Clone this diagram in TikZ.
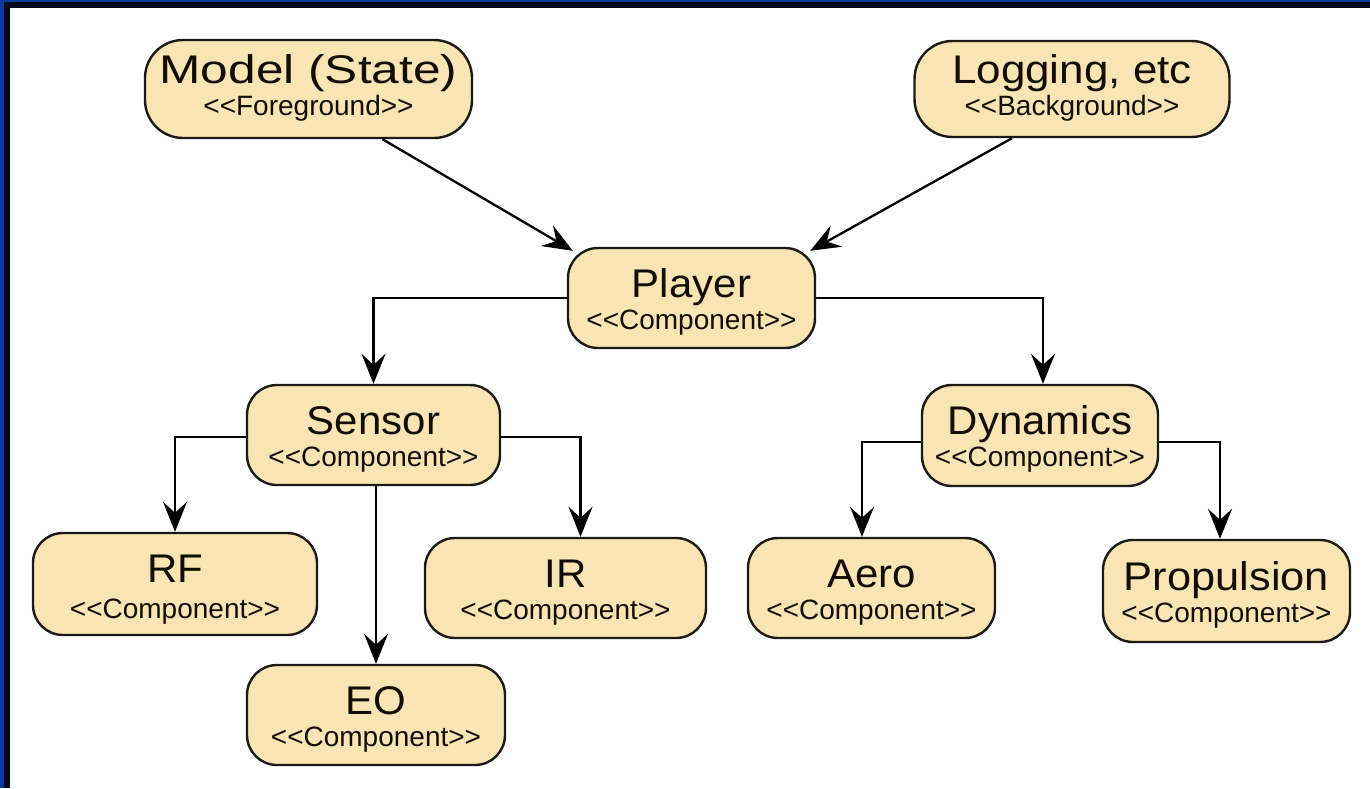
\documentclass[tikz,border=0pt]{standalone}
\usepackage{fontspec}
\setmainfont{Liberation Sans}
\usetikzlibrary{arrows.meta,calc}

\definecolor{boxfill}{HTML}{F9E5B4}
\definecolor{boxline}{HTML}{1C1A16}
\definecolor{frameblue}{HTML}{0B3A9E}
\definecolor{frameblack}{HTML}{050A1A}

% two-line label: [#1] = horizontal stretch of the name,
% #2 = height above first baseline, #3 = baseline gap,
% #4 = component name, #5 = stereotype
\newcommand\twoline[5][1.05]{%
  \vbox{\offinterlineskip\halign{\hfil##\hfil\cr
    \rule{0pt}{#2}\smash{\scalebox{#1}[1]{\fontsize{40}{40}\selectfont #4}}\cr
    \rule{0pt}{#3}\smash{\fontsize{28}{28}\selectfont #5}\cr}}}
\newcommand\stereo[1]{<\kern0pt<#1>\kern0pt>}

\tikzset{
  comp/.style={draw=boxline, fill=boxfill, line width=2.4pt,
    rounded corners=30pt, inner sep=0pt, text=black!90!brown},
  conn/.style={draw=black, line width=2.3pt,
    -{Stealth[length=30pt,width=24pt,inset=11pt]}},
}

\begin{document}
\begin{tikzpicture}[x=1pt,y=-1pt]
  \useasboundingbox (0,0) rectangle (1370,788);
  \fill[white] (0,0) rectangle (1370,788);
  % frame along top and left edges
  \fill[frameblue] (0,0) rectangle (1370,2);
  \fill[frameblue] (0,0) rectangle (4,788);
  \fill[frameblack] (4,2) rectangle (1370,8);
  \fill[frameblack] (4,2) rectangle (10,788);

  % components
  \node[comp, rounded corners=38pt, minimum width=327pt, minimum height=98pt]
    (model) at (308.5,89) {\twoline[1.24]{20pt}{32pt}{Model (State)}{\stereo{Foreground}}};
  \node[comp, rounded corners=38pt, minimum width=315pt, minimum height=96pt]
    (logging) at (1072,89) {\twoline[1.1]{20pt}{32pt}{Logging, etc}{\stereo{Background}}};
  \node[comp, minimum width=247pt, minimum height=100pt]
    (player) at (691.5,298) {\twoline{30pt}{32pt}{Player}{\stereo{Component}}};
  \node[comp, minimum width=253pt, minimum height=100pt]
    (sensor) at (373.5,435) {\twoline{30pt}{32pt}{Sensor}{\stereo{Component}}};
  \node[comp, minimum width=236pt, minimum height=101pt]
    (dynamics) at (1040,435.5) {\twoline{30pt}{32pt}{Dynamics}{\stereo{Component}}};
  \node[comp, minimum width=284pt, minimum height=102pt]
    (rf) at (175,584) {\twoline{32pt}{36pt}{RF}{\stereo{Component}}};
  \node[comp, minimum width=258pt, minimum height=100pt]
    (eo) at (376,715) {\twoline{30pt}{32pt}{EO}{\stereo{Component}}};
  \node[comp, minimum width=281pt, minimum height=100pt]
    (ir) at (565.5,588) {\twoline{30pt}{32pt}{IR}{\stereo{Component}}};
  \node[comp, minimum width=247pt, minimum height=100pt]
    (aero) at (871.5,588) {\twoline{30pt}{32pt}{Aero}{\stereo{Component}}};
  \node[comp, minimum width=247pt, minimum height=102pt]
    (propulsion) at (1226.5,591) {\twoline[1.085]{30pt}{32pt}{Propulsion}{\stereo{Component}}};

  % connectors
  \draw[conn] ($(model.south)+(74,0)$) -- ($(player.north west)+(6,4)$);
  \draw[conn] ($(logging.south)+(-60,0)$) -- ($(player.north east)+(-6,4)$);
  \draw[conn] (player.west) -| (sensor.north);
  \draw[conn] (player.east) -| ($(dynamics.north)+(3,0)$);
  \draw[conn] ($(sensor.west)+(0,2)$) -| (rf.north);
  \draw[conn] (eo.north |- sensor.south) -- (eo.north);
  \draw[conn] ($(sensor.east)+(0,2)$) -| ($(ir.north)+(15,0)$);
  \draw[conn] ($(dynamics.west)+(0,6.5)$) -| ($(aero.north)+(-9.5,0)$);
  \draw[conn] ($(dynamics.east)+(0,6.5)$) -| ($(propulsion.north)+(-6.5,0)$);
\end{tikzpicture}
\end{document}
